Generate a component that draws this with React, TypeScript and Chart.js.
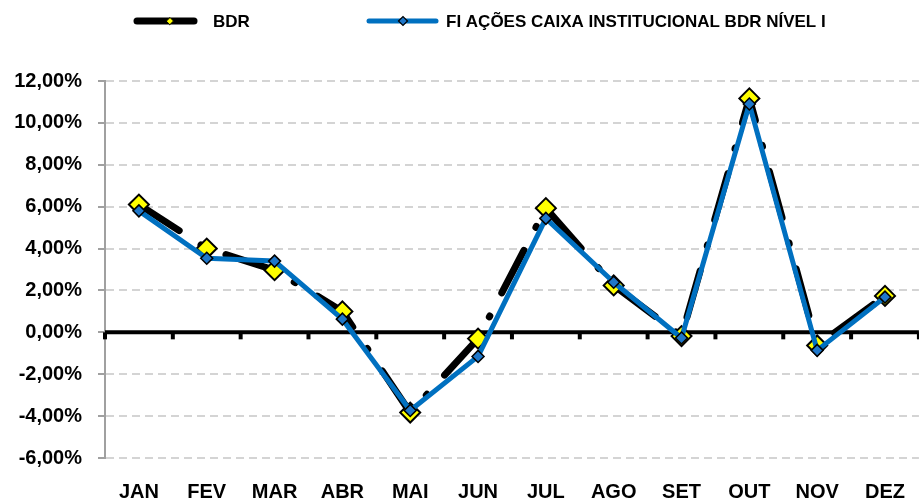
import React, { useEffect, useRef } from "react";
import { Chart, registerables } from "chart.js";

Chart.register(...registerables);

const months = ["JAN", "FEV", "MAR", "ABR", "MAI", "JUN", "JUL", "AGO", "SET", "OUT", "NOV", "DEZ"];
const bdr = [6.1, 4.0, 2.97, 1.0, -3.83, -0.3, 5.93, 2.24, -0.18, 11.17, -0.63, 1.74];
const fiCaixa = [5.8, 3.54, 3.4, 0.63, -3.73, -1.15, 5.44, 2.39, -0.27, 10.9, -0.86, 1.68];
const seriesNames = ["BDR", "FI AÇÕES CAIXA INSTITUCIONAL BDR NÍVEL I"];
const yTicks = { min: -6, max: 12, step: 2 };

const FONT = "'Liberation Sans', Arial, sans-serif";

const zeroLinePlugin = {
  id: "zeroLine",
  beforeDatasetsDraw(chart: any) {
    const { ctx, chartArea, scales } = chart;
    const y0 = scales.y.getPixelForValue(0);
    const x = scales.x;
    const n = chart.data.labels.length;
    const step = (chartArea.right - chartArea.left) / n;
    ctx.save();
    ctx.strokeStyle = "#000";
    ctx.lineWidth = 4;
    ctx.beginPath();
    ctx.moveTo(chartArea.left, y0);
    ctx.lineTo(chartArea.right, y0);
    ctx.stroke();
    for (let i = 0; i <= n; i++) {
      const px = x.getPixelForValue(0) - step / 2 + i * step;
      ctx.beginPath();
      ctx.moveTo(px, y0);
      ctx.lineTo(px, y0 + 7);
      ctx.stroke();
    }
    ctx.restore();
  },
};

function diamond(ctx: any, x: number, y: number, r: number, fill: string, stroke: string, lw: number) {
  ctx.beginPath();
  ctx.moveTo(x - r, y);
  ctx.lineTo(x, y - r);
  ctx.lineTo(x + r, y);
  ctx.lineTo(x, y + r);
  ctx.closePath();
  ctx.fillStyle = fill;
  ctx.fill();
  ctx.lineWidth = lw;
  ctx.strokeStyle = stroke;
  ctx.stroke();
}

const legendPlugin = {
  id: "customLegend",
  afterDraw(chart: any) {
    const { ctx } = chart;
    const y = 21;
    ctx.save();
    ctx.lineCap = "round";
    ctx.strokeStyle = "#000";
    ctx.lineWidth = 7;
    ctx.beginPath();
    ctx.moveTo(137, y);
    ctx.lineTo(194, y);
    ctx.stroke();
    diamond(ctx, 170, y, 3.5, "#FFFF00", "#000", 1);
    ctx.strokeStyle = "#0070C0";
    ctx.lineWidth = 5;
    ctx.beginPath();
    ctx.moveTo(369, y);
    ctx.lineTo(436, y);
    ctx.stroke();
    diamond(ctx, 403, y, 4.5, "#1F77C9", "#000", 1.2);
    ctx.fillStyle = "#000";
    ctx.font = `bold 17px ${FONT}`;
    ctx.textBaseline = "middle";
    ctx.textAlign = "left";
    ctx.fillText(seriesNames[0], 213, y + 1);
    ctx.fillText(seriesNames[1], 446, y + 1);
    ctx.restore();
  },
};

export default function App() {
  const ref = useRef<HTMLCanvasElement>(null);
  useEffect(() => {
    document.body.style.margin = "0";
    const canvas = ref.current!;
    const chart = new Chart(canvas, {
      type: "line",
      data: {
        labels: months,
        datasets: [
          {
            label: seriesNames[0],
            data: bdr,
            borderColor: "#000",
            borderWidth: 7,
            borderDash: [48, 26, 1, 26],
            borderCapStyle: "round",
            borderJoinStyle: "round",
            pointStyle: "rectRot",
            pointRadius: 10,
            pointBackgroundColor: "#FFFF00",
            pointBorderColor: "#000",
            pointBorderWidth: 2,
            tension: 0,
            order: 2,
          },
          {
            label: seriesNames[1],
            data: fiCaixa,
            borderColor: "#0070C0",
            borderWidth: 5,
            borderJoinStyle: "round",
            pointStyle: "rectRot",
            pointRadius: 6,
            pointBackgroundColor: "#1F77C9",
            pointBorderColor: "#000",
            pointBorderWidth: 1.5,
            tension: 0,
            order: 1,
          },
        ],
      },
      options: {
        responsive: false,
        animation: false,
        layout: { autoPadding: false, padding: { top: 81, right: -8, left: 0, bottom: 0 } },
        plugins: { legend: { display: false }, tooltip: { enabled: false } },
        scales: {
          x: {
            offset: true,
            afterFit(scale: any) {
              scale.height = 45;
            },
            grid: { display: false },
            border: { display: false },
            ticks: {
              color: "#000",
              font: { family: FONT, size: 20, weight: "bold" },
              padding: 14,
              maxRotation: 0,
            },
          },
          y: {
            min: yTicks.min,
            max: yTicks.max,
            afterFit(scale: any) {
              scale.width = 105;
            },
            ticks: {
              stepSize: yTicks.step,
              color: "#000",
              padding: 16,
              font: { family: FONT, size: 20, weight: "bold" },
              callback: (v: any) => Number(v).toFixed(2).replace(".", ",") + "%",
            },
            grid: {
              color: "#D4D4D4",
              lineWidth: 2,
              tickLength: 7,
              tickColor: "#A0A0A0",
              tickBorderDash: [],
            },
            border: { display: true, color: "#A0A0A0", width: 2, dash: [8, 5] },
          },
        },
      },
      plugins: [zeroLinePlugin, legendPlugin],
    });
    return () => chart.destroy();
  }, []);
  return <canvas ref={ref} width={919} height={503} />;
}
